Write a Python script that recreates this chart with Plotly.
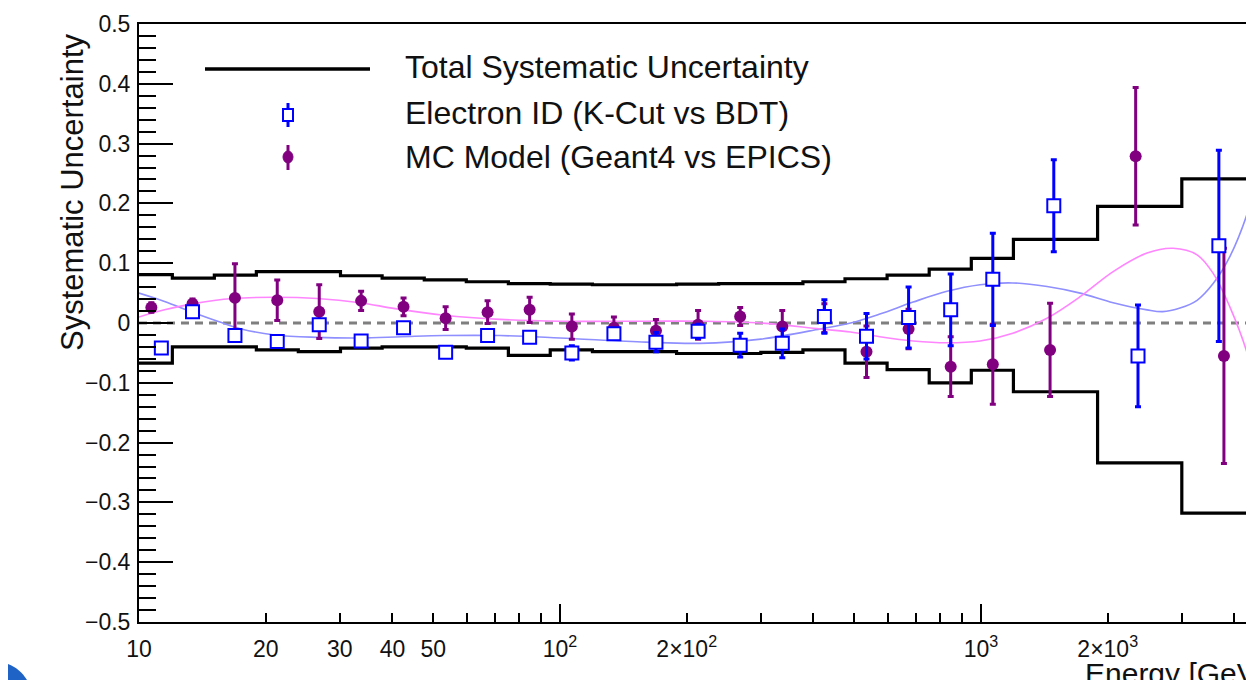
import plotly.graph_objects as go

# ---------------- data ----------------
bin_edges = [10, 12.0, 15.1, 19.0, 23.9, 30.1, 37.8, 47.6, 59.9, 75.4, 94.8, 119.4,
             150.3, 189.2, 238.2, 299.9, 377.6, 475.3, 598.4, 753.3, 948.4, 1194,
             1892, 2999, 4753]
total_upper = [0.081, 0.075, 0.080, 0.086, 0.086, 0.079, 0.075, 0.072, 0.069, 0.066,
               0.065, 0.064, 0.064, 0.065, 0.066, 0.066, 0.069, 0.074, 0.080, 0.090,
               0.108, 0.140, 0.195, 0.241]
total_lower = [-0.067, -0.040, -0.040, -0.045, -0.048, -0.042, -0.040, -0.040, -0.042,
               -0.054, -0.045, -0.048, -0.048, -0.051, -0.051, -0.049, -0.045, -0.067,
               -0.078, -0.100, -0.079, -0.115, -0.234, -0.318]

eid_energy = [11.3, 13.4, 16.9, 21.3, 26.8, 33.7, 42.5, 53.5, 67.3, 84.7, 106.7, 134.3,
              169.0, 212.8, 267.9, 337.3, 424.6, 534.6, 673.0, 847.3, 1066.7, 1489,
              2360, 3673]
eid_value = [-0.042, 0.019, -0.021, -0.031, -0.003, -0.030, -0.008, -0.049, -0.021,
             -0.024, -0.050, -0.018, -0.032, -0.014, -0.037, -0.034, 0.011, -0.022,
             0.009, 0.022, 0.073, 0.196, -0.055, 0.129]
eid_error = [0.006, 0.006, 0.006, 0.005, 0.008, 0.005, 0.006, 0.006, 0.007, 0.008,
             0.012, 0.008, 0.016, 0.012, 0.020, 0.024, 0.028, 0.038, 0.051, 0.060,
             0.077, 0.077, 0.085, 0.160]

mc_energy = [10.7, 13.4, 16.9, 21.3, 26.8, 33.7, 42.5, 53.5, 67.3, 84.7, 106.7, 134.3,
             169.0, 212.8, 267.9, 337.3, 424.6, 534.6, 673.0, 847.3, 1066.7, 1459,
             2330, 3776]
mc_value = [0.026, 0.032, 0.042, 0.038, 0.019, 0.037, 0.027, 0.008, 0.018, 0.022,
            -0.006, -0.008, -0.013, -0.003, 0.011, -0.006, 0.008, -0.048, -0.010,
            -0.073, -0.069, -0.045, 0.279, -0.055]
mc_error = [0.008, 0.008, 0.057, 0.034, 0.045, 0.016, 0.015, 0.019, 0.019, 0.021,
            0.021, 0.018, 0.019, 0.024, 0.015, 0.027, 0.024, 0.043, 0.033, 0.050,
            0.067, 0.078, 0.115, 0.180]

eid_fit_energy = [10, 11.5, 13.4, 15.5, 17.5, 21, 26.5, 33.5, 42, 53, 72, 100, 160, 215,
                  300, 415, 490, 575, 690, 830, 995, 1190, 1435, 1720, 2060, 2480, 2700,
                  2970, 3260, 3560, 3900, 4290, 4450]
eid_fit_value = [0.050, 0.036, 0.018, 0.002, -0.010, -0.020, -0.024, -0.025, -0.023,
                 -0.021, -0.021, -0.025, -0.032, -0.034, -0.027, -0.010, 0.000, 0.015,
                 0.035, 0.053, 0.064, 0.067, 0.061, 0.050, 0.034, 0.022, 0.019, 0.025,
                 0.038, 0.066, 0.111, 0.183, 0.225]

mc_fit_energy = [10, 11.5, 13.4, 16.7, 21, 26.5, 33.5, 40.6, 53, 72, 100, 160, 215, 300,
                 415, 490, 575, 690, 830, 995, 1190, 1435, 1720, 2060, 2480, 2860, 3260,
                 3560, 3900, 4290, 4450]
mc_fit_value = [0.010, 0.022, 0.032, 0.041, 0.043, 0.041, 0.034, 0.024, 0.013, 0.006,
                0.003, 0.003, 0.003, 0.000, -0.010, -0.015, -0.023, -0.030, -0.033,
                -0.030, -0.017, 0.008, 0.044, 0.086, 0.117, 0.125, 0.114, 0.083, 0.027,
                -0.051, -0.100]

x_tick_values = [10, 20, 30, 40, 50, 100, 200, 1000, 2000]
x_tick_text = ["10", "20", "30", "40", "50", "10<sup>2</sup>", "2×10<sup>2</sup>",
               "10<sup>3</sup>", "2×10<sup>3</sup>"]
x_minor_values = [60, 70, 80, 90, 300, 400, 500, 600, 700, 800, 900, 3000, 4000]
x_decade_values = [100, 1000]

y_tick_values = [-0.5, -0.4, -0.3, -0.2, -0.1, 0, 0.1, 0.2, 0.3, 0.4, 0.5]
y_tick_text = ["−0.5", "−0.4", "−0.3", "−0.2", "−0.1", "0", "0.1", "0.2", "0.3", "0.4",
               "0.5"]

legend_labels = ["Total Systematic Uncertainty", "Electron ID (K-Cut vs BDT)",
                 "MC Model (Geant4 vs EPICS)"]

# ---------------- geometry ----------------
# the page body adds an 8px offset; all window positions below are compensated
OFF = 8
W, H = 1254 - OFF, 680 - OFF
L, R, T = 139 - OFF, 0, 24 - OFF
PW = W - L - R
PH = 598
B = H - T - PH
X0 = L + OFF          # plot left in window pixels
Y1 = T + OFF + PH     # plot bottom in window pixels


def px(x):
    return (x - X0) / PW


def py(y):
    return (Y1 - y) / PH


FONT = "Liberation Sans, Arial, Helvetica, sans-serif"
BLUE = "#0000ff"
PURPLE = "#800080"

fig = go.Figure()

# fit curves
fig.add_trace(go.Scatter(x=eid_fit_energy, y=eid_fit_value, mode="lines",
                         line=dict(color="#8f8fff", width=1.6, shape="spline"),
                         showlegend=False, hoverinfo="skip"))
fig.add_trace(go.Scatter(x=mc_fit_energy, y=mc_fit_value, mode="lines",
                         line=dict(color="#ff85ff", width=1.6, shape="spline"),
                         showlegend=False, hoverinfo="skip"))

# total systematic envelope (step histogram)
fig.add_trace(go.Scatter(x=bin_edges, y=total_upper + [total_upper[-1]], mode="lines",
                         line=dict(color="black", width=3.2, shape="hv"),
                         showlegend=False))
fig.add_trace(go.Scatter(x=bin_edges, y=total_lower + [total_lower[-1]], mode="lines",
                         line=dict(color="black", width=3.2, shape="hv"),
                         showlegend=False))

# MC model points
fig.add_trace(go.Scatter(x=mc_energy, y=mc_value, mode="markers",
                         marker=dict(symbol="circle", size=12, color=PURPLE,
                                     line=dict(width=0)),
                         error_y=dict(type="data", array=mc_error, visible=True,
                                      color=PURPLE, thickness=3, width=3),
                         showlegend=False))
# Electron ID points
fig.add_trace(go.Scatter(x=eid_energy, y=eid_value, mode="markers",
                         marker=dict(symbol="square", size=13, color="white",
                                     line=dict(width=2, color=BLUE)),
                         error_y=dict(type="data", array=eid_error, visible=True,
                                      color=BLUE, thickness=3, width=3),
                         showlegend=False))

# invisible trace for the decade-tick overlay axis
fig.add_trace(go.Scatter(x=x_decade_values, y=[0, 0], xaxis="x2", mode="markers",
                         marker=dict(opacity=0), showlegend=False, hoverinfo="skip"))

# zero reference line
fig.add_hline(y=0, line=dict(color="#7f7f7f", width=3, dash="8px,6px"), layer="below")

tickfont = dict(family=FONT, size=23, color="#111")
xr = [1, 1 + PW / 421.0]

fig.update_layout(
    width=W, height=H,
    margin=dict(l=L, r=R, t=T, b=B, pad=0, autoexpand=False),
    paper_bgcolor="white", plot_bgcolor="white",
    showlegend=False,
    xaxis=dict(type="log", range=xr, showgrid=False, zeroline=False, automargin=False,
               showline=True, linecolor="black", linewidth=2, mirror=True,
               ticks="inside", ticklen=9, tickwidth=2, tickcolor="black",
               tickmode="array", tickvals=x_tick_values, ticktext=x_tick_text,
               tickfont=tickfont, ticklabelstandoff=5,
               minor=dict(tickmode="array", tickvals=x_minor_values, ticks="inside",
                          ticklen=9, tickwidth=2, tickcolor="black", showgrid=False)),
    xaxis2=dict(type="log", range=xr, overlaying="x", side="bottom", anchor="y",
                showgrid=False, zeroline=False, showline=False, automargin=False,
                ticks="inside", ticklen=18, tickwidth=2, tickcolor="black",
                tickmode="array", tickvals=x_decade_values, showticklabels=False),
    yaxis=dict(range=[-0.5, 0.5], showgrid=False, zeroline=False, automargin=False,
               showline=True, linecolor="black", linewidth=2, mirror=False,
               ticks="inside", ticklen=34, tickwidth=2, tickcolor="black",
               tickmode="array", tickvals=y_tick_values, ticktext=y_tick_text,
               tickfont=tickfont, ticklabelstandoff=2,
               minor=dict(dtick=0.02, tick0=0, ticks="inside", ticklen=17, tickwidth=2,
                          tickcolor="black", showgrid=False)),
)

annotations = []
# axis titles
annotations.append(dict(text="Systematic Uncertainty", textangle=-90, x=px(72), y=py(193),
                        xref="paper", yref="paper", xanchor="center", yanchor="middle",
                        showarrow=False, font=dict(family=FONT, size=31, color="#111")))
annotations.append(dict(text="Energy [GeV]", x=px(1083), y=py(673),
                        xref="paper", yref="paper", xanchor="left", yanchor="middle",
                        showarrow=False, font=dict(family=FONT, size=30, color="#111")))
# legend texts
for label, ypix in zip(legend_labels, [67, 113, 157]):
    annotations.append(dict(text=label, x=px(403), y=py(ypix), xref="paper", yref="paper",
                            xanchor="left", yanchor="middle", showarrow=False,
                            font=dict(family=FONT, size=32, color="#111")))
fig.update_layout(annotations=annotations)

shapes = []
# legend glyphs
shapes.append(dict(type="line", xref="paper", yref="paper", x0=px(205), x1=px(370),
                   y0=py(69), y1=py(69), line=dict(color="black", width=3.5)))
shapes.append(dict(type="line", xref="paper", yref="paper", x0=px(288), x1=px(288),
                   y0=py(103), y1=py(127), line=dict(color=BLUE, width=3)))
shapes.append(dict(type="rect", xref="paper", yref="paper", xsizemode="pixel",
                   ysizemode="pixel", xanchor=px(288), yanchor=py(115),
                   x0=-5, x1=5, y0=-6, y1=6, fillcolor="white",
                   line=dict(color=BLUE, width=2)))
shapes.append(dict(type="line", xref="paper", yref="paper", x0=px(288), x1=px(288),
                   y0=py(145), y1=py(170), line=dict(color=PURPLE, width=3)))
shapes.append(dict(type="circle", xref="paper", yref="paper", xsizemode="pixel",
                   ysizemode="pixel", xanchor=px(288), yanchor=py(157),
                   x0=-5, x1=5, y0=-6, y1=6, fillcolor=PURPLE,
                   line=dict(color=PURPLE, width=1)))
# blue corner of the surrounding frame (bottom-left of the window)
shapes.append(dict(type="path", xref="paper", yref="paper",
                   path=(f"M {px(OFF)},{py(664)} C {px(16)},{py(667)} {px(22)},{py(672)} "
                         f"{px(27)},{py(680)} L {px(OFF)},{py(680)} Z"),
                   fillcolor="#1f63c6", line=dict(width=0)))
fig.update_layout(shapes=fig.layout.shapes + tuple(shapes))

fig.write_html("out.html")
